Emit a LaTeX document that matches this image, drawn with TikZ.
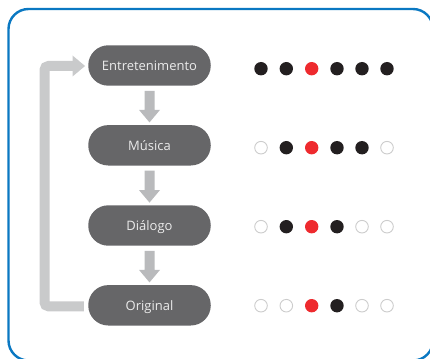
\documentclass[tikz,border=0pt]{standalone}
\usepackage{fontspec}
\setmainfont{Open Sans}
\definecolor{framec}{HTML}{0A78C2}
\definecolor{boxc}{HTML}{666668}
\definecolor{arrowc}{HTML}{B9BABC}
\definecolor{loopc}{HTML}{C9CACB}
\definecolor{darkdot}{HTML}{231F20}
\definecolor{reddot}{HTML}{EE2A2E}
\definecolor{ringc}{HTML}{CCCCCC}
\tikzset{
  x=1pt,y=-1pt,
  stage/.style={draw=none,fill=boxc,rounded corners=20pt,minimum width=122.5pt,minimum height=40.4pt,text=white!92!black,font=\fontsize{13}{15}\selectfont,inner sep=0pt,text height=12pt,text depth=2pt},
  blk/.style={circle,fill=darkdot,draw=none,minimum size=13.4pt,inner sep=0pt},
  red/.style={circle,fill=reddot,draw=none,minimum size=13.4pt,inner sep=0pt},
  ring/.style={circle,fill=white,draw=ringc,line width=0.9pt,minimum size=12.6pt,inner sep=0pt},
}
\begin{document}
\begin{tikzpicture}
\useasboundingbox (0,0) rectangle (430,358);
\clip (0,0) rectangle (430,358);
\draw[framec,line width=2.4pt,rounded corners=20pt] (8.5,9) rectangle (433,360.5);
\node[stage] (e) at (149.5,65.5) {Entretenimento};
\node[stage] (m) at (149.5,145.3) {Música};
\node[stage] (d) at (149.5,225.5) {Diálogo};
\node[stage] (o) at (149.5,305.3) {Original};
\foreach \a/\b in {e/m,m/d,d/o}{
  \fill[arrowc] ([xshift=-5pt,yshift=-5pt]\a.south) -- ([xshift=5pt,yshift=-5pt]\a.south) -- ([xshift=5pt,yshift=15pt]\b.north) -- ([xshift=10.5pt,yshift=15pt]\b.north) -- ([yshift=2.5pt]\b.north) -- ([xshift=-10.5pt,yshift=15pt]\b.north) -- ([xshift=-5pt,yshift=15pt]\b.north) -- cycle;
}
\coordinate (lb) at (44.5,306.3);
\coordinate (lt) at (44.5,66);
\draw[loopc,line width=10pt,rounded corners=4pt] ([xshift=-4.2pt,yshift=-1pt]o.west) -- (lb) -- (lt) -- ([xshift=-15pt,yshift=-0.5pt]e.west);
\fill[loopc] ([xshift=-3pt,yshift=-0.5pt]e.west) -- ([xshift=-15.5pt,yshift=10pt]e.west) -- ([xshift=-15.5pt,yshift=-11pt]e.west) -- cycle;
\foreach \y/\sa/\sb/\sd/\se/\sf [count=\r] in {68.7/blk/blk/blk/blk/blk,147.7/ring/blk/blk/blk/ring,226.7/ring/blk/blk/ring/ring,305.7/ring/ring/blk/ring/ring}{
  \node[\sa] (r\r a) at (261,\y) {};
  \node[\sb] (r\r b) at (286.3,\y) {};
  \node[red] (r\r c) at (311.7,\y) {};
  \node[\sd] (r\r d) at (337,\y) {};
  \node[\se] (r\r e) at (362,\y) {};
  \node[\sf] (r\r f) at (387,\y) {};
}
\end{tikzpicture}
\end{document}
